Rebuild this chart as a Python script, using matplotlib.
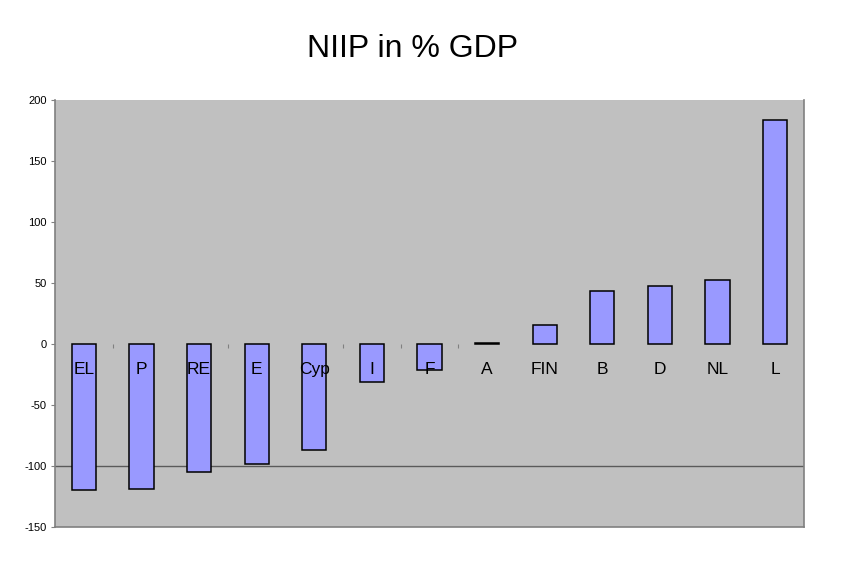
import matplotlib
matplotlib.use('Agg')
import matplotlib.pyplot as plt

plt.rcParams['font.family'] = ['Liberation Sans', 'DejaVu Sans']
plt.rcParams['axes.unicode_minus'] = False

# Data:
countries = ['EL', 'P', 'RE', 'E', 'Cyp', 'I', 'F', 'A', 'FIN', 'B', 'D', 'NL', 'L']
niip = [-120, -119, -105, -98, -87, -31, -21, 1, 15.5, 43.5, 47.5, 52.5, 183.5]
y_ticks = [-150, -100, -50, 0, 50, 100, 150, 200]
tick_gaps = [0, 2, 4, 5, 6]  # category boundaries with a visible tick mark

fig = plt.figure(figsize=(8.42, 5.67), dpi=100)
ax = fig.add_axes([0.0653, 0.0705, 0.8896, 0.7531])
ax.set_facecolor('#c0c0c0')

x = range(len(countries))
ax.bar(x, niip, width=0.42, color='#9999ff', edgecolor='black', linewidth=1.1, zorder=3)
ax.axhline(-100, color='#5a5a5a', linewidth=1, zorder=2)

ax.set_xlim(-0.5, len(countries) - 0.5)
ax.set_ylim(-150, 200)
ax.set_yticks(y_ticks)
ax.tick_params(axis='y', labelsize=8, length=3, color='#808080', pad=3)
ax.set_xticks([])

for side in ['left', 'right', 'bottom']:
    ax.spines[side].set_color('#808080')
    ax.spines[side].set_linewidth(1.2)
ax.spines['top'].set_visible(False)

# Category axis crossing at zero, labels drawn over the bars
sec = ax.secondary_xaxis(0, transform=ax.transData)
sec.set_zorder(5)
sec.spines['bottom'].set_visible(False)
sec.set_xticks(list(x))
sec.set_xticklabels(countries, fontsize=12.5)
sec.set_xticks([g + 0.5 for g in tick_gaps], minor=True)
sec.tick_params(axis='x', which='major', length=0, pad=13)
sec.tick_params(axis='x', which='minor', length=3, color='#808080', width=0.8)

fig.text(0.49, 0.914, 'NIIP in % GDP', ha='center', va='center', fontsize=23)

fig.savefig('out.png', dpi=100)
